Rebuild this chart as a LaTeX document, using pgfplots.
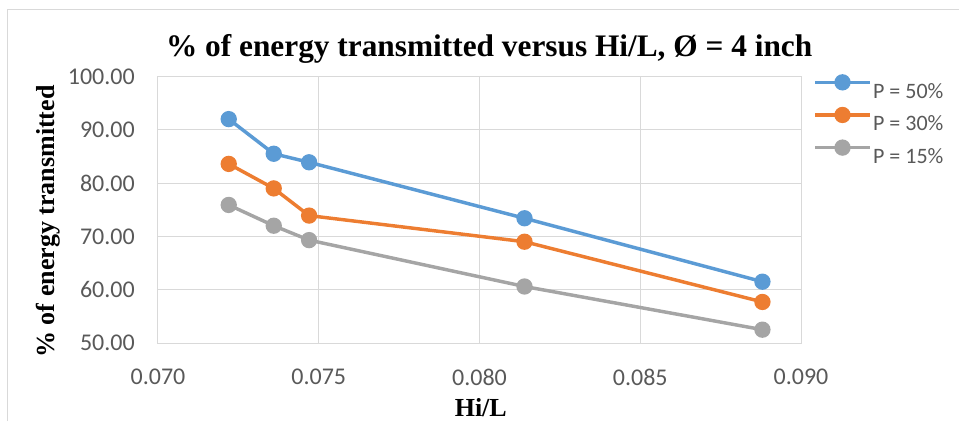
\documentclass[border=0pt]{standalone}
\usepackage{pgfplots}
\pgfplotsset{compat=1.18}
\usepackage{fontspec}
\setmainfont{Liberation Serif}
\newfontfamily\calibri{Carlito}

\definecolor{serA}{HTML}{5B9BD5}
\definecolor{serB}{HTML}{ED7D31}
\definecolor{serC}{HTML}{A5A5A5}
\definecolor{gridc}{HTML}{D9D9D9}
\definecolor{labc}{HTML}{595959}

\begin{document}
\begin{tikzpicture}
% page frame (1px = 0.75pt, origin at the lower left corner of the plot area)
\useasboundingbox (-118.5pt,-58.5pt) rectangle (600.75pt,257.25pt);
\draw[gridc, line width=0.75pt] (-112.5pt,-58.5pt) -- (-112.5pt,249.75pt) -- (600.75pt,249.75pt);

\begin{axis}[
  at={(0pt,0pt)}, anchor=south west,
  scale only axis,
  width=482.25pt, height=199.9pt,
  xmin=0.070, xmax=0.090,
  ymin=50, ymax=100,
  xtick={0.070,0.075,0.080,0.085,0.090},
  ytick={50,60,70,80,90,100},
  grid=major,
  major grid style={draw=gridc, line width=0.75pt},
  axis line style={draw=gridc, line width=0.75pt},
  major tick length=0pt,
  scaled x ticks=false,
  /pgf/number format/assume math mode=true,
  xticklabel style={/pgf/number format/.cd, fixed, fixed zerofill, precision=3, /tikz/.cd,
    font=\calibri\fontsize{18pt}{20pt}\selectfont, text=labc, anchor=center, inner sep=0pt, yshift=-25.5pt},
  yticklabel style={/pgf/number format/.cd, fixed, fixed zerofill, precision=2, /tikz/.cd,
    font=\calibri\fontsize{18pt}{20pt}\selectfont, text=labc, anchor=east, inner sep=0pt, xshift=-17.25pt},
  title={\% of energy transmitted versus Hi/L, Ø = 4 inch},
  title style={font=\bfseries\fontsize{23.5pt}{26pt}\selectfont, at={(axis description cs:0.515,1.045)}, anchor=base, inner sep=0pt},
  xlabel={Hi/L},
  xlabel style={font=\bfseries\fontsize{19.5pt}{22pt}\selectfont, at={(axis description cs:0.502,-0.244)}, anchor=center, inner sep=0pt},
  ylabel={\% of energy transmitted},
  ylabel style={font=\bfseries\fontsize{19.5pt}{22pt}\selectfont, at={(axis description cs:-0.170,0.456)}, anchor=center, inner sep=0pt, rotate=0},
  every axis plot/.append style={line width=2.6pt, mark=*, mark size=4.8pt, mark options={solid}},
  legend image code/.code={
    \draw[mark repeat=2, mark phase=2, #1, yshift=7pt]
      plot coordinates {(0pt,0pt) (20.6pt,0pt) (41.25pt,0pt)};
  },
  legend style={at={(1.0187,1.003)}, anchor=north west, draw=none, fill=none,
    font=\calibri\fontsize{16.5pt}{18pt}\selectfont, text=labc,
    inner sep=0pt, row sep=5.3pt,
    nodes={inner sep=1pt}},
  legend cell align=left,
  clip=false,
]
\addplot[color=serA] coordinates {
  (0.0722,92.0) (0.0736,85.5) (0.0747,83.9) (0.0814,73.4) (0.0888,61.5)
};
\addlegendentry{P = 50\%}
\addplot[color=serB] coordinates {
  (0.0722,83.6) (0.0736,79.0) (0.0747,73.9) (0.0814,69.0) (0.0888,57.7)
};
\addlegendentry{P = 30\%}
\addplot[color=serC] coordinates {
  (0.0722,75.9) (0.0736,72.0) (0.0747,69.3) (0.0814,60.6) (0.0888,52.5)
};
\addlegendentry{P = 15\%}
\end{axis}
\end{tikzpicture}
\end{document}
